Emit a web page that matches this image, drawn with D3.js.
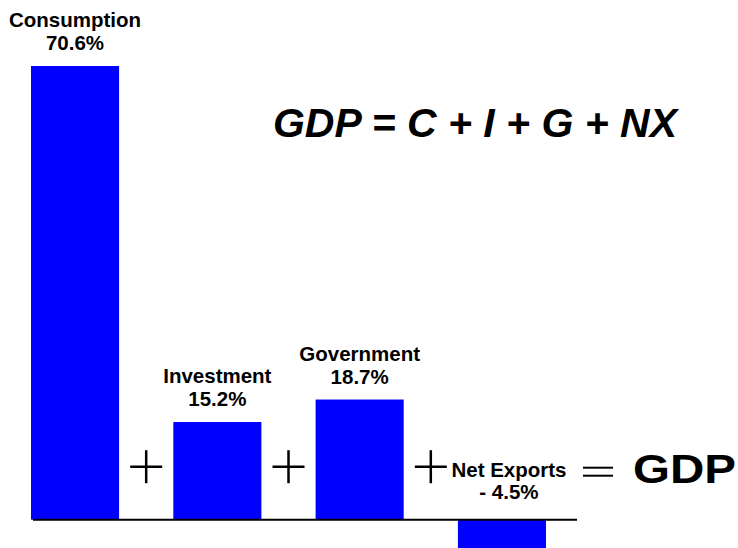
<!DOCTYPE html>
<html>
<head>
<meta charset="utf-8">
<script src="https://cdn.jsdelivr.net/npm/d3@7"></script>
<style>
  body { margin: 0; background: #fff; }
  svg { display: block; font-family: "Liberation Sans", Arial, sans-serif; }
</style>
</head>
<body>
<svg></svg>
<script>
// GDP components, share of GDP (%)
let categories = ['Consumption', 'Investment', 'Government', 'Net Exports']
let values = [70.6, 15.2, 18.7, -4.5]
let valueLabels = ['70.6%', '15.2%', '18.7%', '- 4.5%']
let title = 'GDP = C + I + G + NX'

let width = 738
let height = 548

let svg = d3.select('svg')
    .attr('width', width)
    .attr('height', height)

let xScale = d3.scaleBand()
    .domain(categories)
    .range([31, 546])
    .paddingInner(0.381)
    .paddingOuter(0)

let yScale = d3.scaleLinear()
    .domain([0, 70.6])
    .range([519.7, 66])

let bw = xScale.bandwidth()
let y0 = yScale(0)

// bars
svg.selectAll('rect.bar')
    .data(values)
    .enter()
    .append('rect')
    .attr('class', 'bar')
    .attr('x', (d, i) => xScale(categories[i]))
    .attr('width', bw)
    .attr('y', d => yScale(Math.max(d, 0)))
    .attr('height', d => Math.abs(yScale(d) - y0))
    .attr('fill', '#0000ff')

// baseline
svg.append('line')
    .attr('x1', 33)
    .attr('x2', 577)
    .attr('y1', y0)
    .attr('y2', y0)
    .attr('stroke', '#000')
    .attr('stroke-width', 2)

// labels
const labelPos = (d, i) => {
    let cx = xScale(categories[i]) + bw / 2
    if (d < 0) return {cx: cx + 7, name: y0 - 43, pct: y0 - 21}
    let top = yScale(d)
    return {cx: cx, name: top - 39, pct: top - 16}
}

let labels = svg.selectAll('g.label')
    .data(values)
    .enter()
    .append('g')
    .attr('class', 'label')

labels.append('text')
    .attr('x', (d, i) => labelPos(d, i).cx)
    .attr('y', (d, i) => labelPos(d, i).name)
    .attr('text-anchor', 'middle')
    .attr('font-size', 20.5)
    .attr('font-weight', 'bold')
    .attr('fill', '#000')
    .text((d, i) => categories[i])

labels.append('text')
    .attr('x', (d, i) => labelPos(d, i).cx)
    .attr('y', (d, i) => labelPos(d, i).pct)
    .attr('text-anchor', 'middle')
    .attr('font-size', 20.5)
    .attr('font-weight', 'bold')
    .attr('fill', '#000')
    .text((d, i) => valueLabels[i])

// plus signs between bars
let opY = 466.7
let half = 16
for (let i = 0; i < categories.length - 1; i++) {
    let cx = (xScale(categories[i]) + bw + xScale(categories[i + 1])) / 2
    let g = svg.append('g').attr('stroke', '#000').attr('stroke-width', 2.5)
    g.append('line').attr('x1', cx - half).attr('x2', cx + half).attr('y1', opY).attr('y2', opY)
    g.append('line').attr('x1', cx).attr('x2', cx).attr('y1', opY - half - 0.5).attr('y2', opY + half + 0.5)
}

// equals sign and GDP
let lastRight = xScale(categories[categories.length - 1]) + bw
let eqX = lastRight + 52
let eq = svg.append('g').attr('stroke', '#000').attr('stroke-width', 2)
eq.append('line').attr('x1', eqX - 15).attr('x2', eqX + 15).attr('y1', opY + 1).attr('y2', opY + 1)
eq.append('line').attr('x1', eqX - 15).attr('x2', eqX + 15).attr('y1', opY + 9).attr('y2', opY + 9)

svg.append('text')
    .attr('x', 633)
    .attr('y', 483)
    .attr('font-size', 41)
    .attr('font-weight', 'bold')
    .attr('textLength', 103)
    .attr('lengthAdjust', 'spacingAndGlyphs')
    .attr('fill', '#000')
    .text('GDP')

// formula title
svg.append('text')
    .attr('x', 475)
    .attr('y', 136.5)
    .attr('text-anchor', 'middle')
    .attr('font-size', 41)
    .attr('font-weight', 'bold')
    .attr('font-style', 'italic')
    .attr('fill', '#000')
    .text(title)
</script>
</body>
</html>
